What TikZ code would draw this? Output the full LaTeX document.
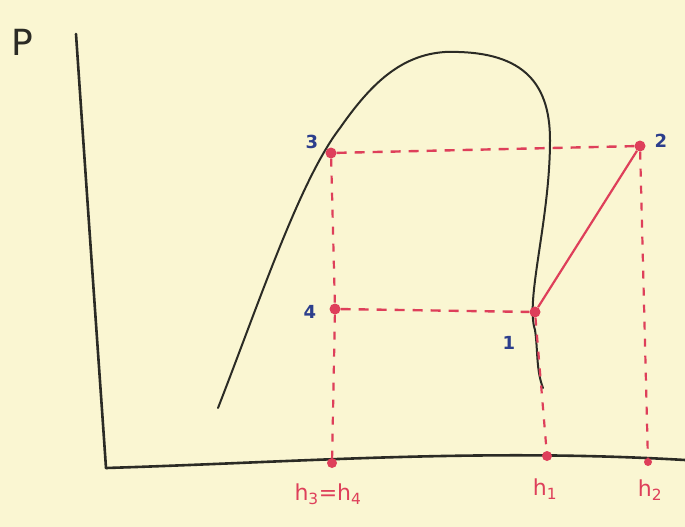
\documentclass[tikz,border=0pt]{standalone}
\usepackage{fontspec}
\setmainfont{DejaVu Sans}
\definecolor{paper}{HTML}{FAF6D2}
\definecolor{ink}{HTML}{2B2B25}
\definecolor{redink}{HTML}{DE3F5A}
\definecolor{blueink}{HTML}{2C3E8C}
\tikzset{
  axisline/.style={ink, line width=2.6pt, line cap=round},
  dome/.style={ink, line width=2pt, line cap=round},
  cyc/.style={redink, line width=2.4pt, dash pattern=on 10pt off 8pt},
  proj/.style={redink, line width=2.2pt, dash pattern=on 8pt off 9pt},
  solidred/.style={redink, line width=2.2pt},
  statept/.style={circle, fill=redink, inner sep=0pt, minimum size=11pt},
  stlabel/.style={blueink, font=\bfseries\fontsize{18}{18}\selectfont},
  hlabel/.style={redink, font=\fontsize{22}{22}\selectfont},
}
\begin{document}
\begin{tikzpicture}[x=1pt,y=-1pt]
\fill[paper] (0,0) rectangle (685,527);
\useasboundingbox (0,0) rectangle (685,527);
% axes
\coordinate (ytop) at (76,34);
\coordinate (origin) at (106,468);
\coordinate (xend) at (685,460);
\draw[axisline] (ytop) .. controls (90,240) and (100,380) .. (origin);
\draw[axisline] (origin) .. controls (300,462) and (480,448) .. (xend);
\node[font=\fontsize{36}{36}\selectfont, ink] (P) at (22,42) {P};
% saturation dome
\coordinate (dl) at (218,408);
\coordinate (dtop) at (445,52);
\coordinate (dr) at (543,388);
\draw[dome] (dl) .. controls (260,300) and (300,180) .. (340,128)
  .. controls (370,85) and (400,55) .. (dtop)
  .. controls (520,50) and (550,80) .. (550,140)
  .. controls (550,220) and (525,300) .. (535,330)
  .. controls (538,350) and (536,370) .. (dr);
% state points
\node[statept] (s3) at (331,153) {};
\node[statept] (s2) at (640,146) {};
\node[statept] (s4) at (335,309) {};
\node[statept] (s1) at (535,312) {};
\node[statept, minimum size=10pt] (b3) at (332,463) {};
\node[statept, minimum size=10pt] (b1) at (547,456) {};
\node[statept, minimum size=8pt] (b2) at (648,462) {};
% cycle
\draw[cyc] (s3) -- (s2);
\draw[cyc] (s4) -- (s1);
\draw[solidred] (s1) -- (s2);
\draw[proj] (s3) -- (s4);
\draw[proj] (s4) -- (b3);
\draw[proj] (s1) -- (b1);
\draw[proj] (s2) -- (b2);
% labels
\node[stlabel] (l3) at (312,142) {3};
\node[stlabel] (l2) at (661,141) {2};
\node[stlabel] (l4) at (310,312) {4};
\node[stlabel] (l1) at (509,343) {1};
\node[hlabel] (h3) at (328,494) {h\textsubscript{3}=h\textsubscript{4}};
\node[hlabel] (h1) at (545,489) {h\textsubscript{1}};
\node[hlabel] (h2) at (650,490) {h\textsubscript{2}};
\end{tikzpicture}
\end{document}
